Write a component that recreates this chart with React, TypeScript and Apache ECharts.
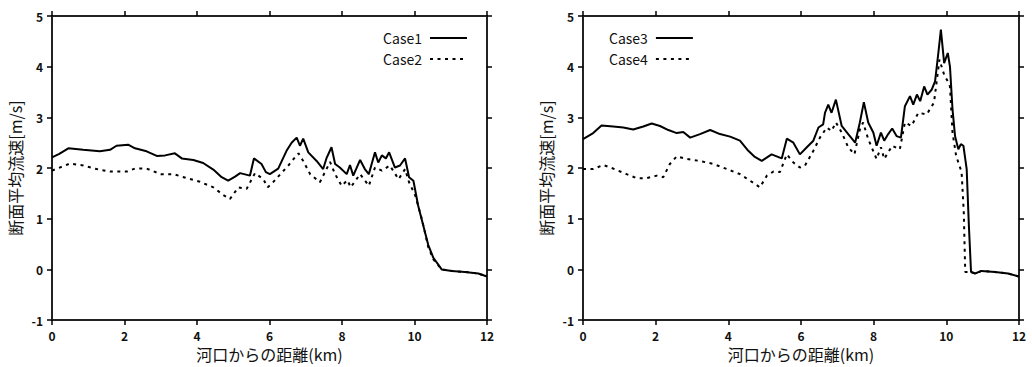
import React, { useEffect, useRef } from "react";
import * as echarts from "echarts";

const xTicks = [0, 2, 4, 6, 8, 10, 12];
const yTicks = [-1, 0, 1, 2, 3, 4, 5];
const xTitle = "河口からの距離(km)";
const yTitle = "断面平均流速[m/s]";

const case1Km = [0, 0.2, 0.45, 0.86, 1.32, 1.6, 1.78, 2.1, 2.29, 2.61, 2.89, 3.12, 3.39, 3.58, 3.9, 4.17, 4.45, 4.68, 4.86, 5.05, 5.19, 5.46, 5.57, 5.78, 5.9, 6.01, 6.24, 6.47, 6.61, 6.75, 6.84, 6.93, 7.07, 7.3, 7.48, 7.57, 7.71, 7.81, 7.94, 8.13, 8.22, 8.31, 8.5, 8.63, 8.74, 8.91, 9.0, 9.1, 9.21, 9.3, 9.46, 9.6, 9.74, 9.85, 9.97, 10.1, 10.24, 10.38, 10.52, 10.75, 11.03, 11.39, 11.76, 12.0];
const case1V = [2.21, 2.28, 2.39, 2.36, 2.33, 2.36, 2.44, 2.46, 2.39, 2.33, 2.24, 2.25, 2.29, 2.19, 2.16, 2.1, 1.97, 1.82, 1.75, 1.83, 1.9, 1.85, 2.19, 2.08, 1.92, 1.88, 1.99, 2.34, 2.5, 2.6, 2.44, 2.58, 2.31, 2.14, 1.98, 2.19, 2.41, 2.08, 2.01, 1.88, 2.06, 1.85, 2.16, 1.98, 1.88, 2.31, 2.11, 2.25, 2.19, 2.31, 2.01, 2.05, 2.19, 1.82, 1.75, 1.26, 0.87, 0.48, 0.23, 0.0, -0.03, -0.05, -0.08, -0.14];

const case2Km = [0, 0.5, 0.86, 1.23, 1.6, 2.06, 2.29, 2.61, 3.0, 3.35, 3.72, 4.08, 4.45, 4.72, 4.91, 5.14, 5.37, 5.6, 5.83, 5.95, 6.06, 6.3, 6.52, 6.7, 6.8, 6.93, 7.12, 7.39, 7.53, 7.67, 7.81, 7.99, 8.15, 8.24, 8.5, 8.74, 8.91, 9.1, 9.32, 9.56, 9.74, 9.85, 10.02, 10.2, 10.38, 10.52, 10.75, 11.03, 11.39, 11.76, 12.0];
const case2V = [1.95, 2.09, 2.05, 1.98, 1.93, 1.93, 1.99, 1.99, 1.88, 1.88, 1.8, 1.73, 1.62, 1.47, 1.39, 1.62, 1.59, 1.9, 1.78, 1.62, 1.69, 1.88, 2.05, 2.21, 2.29, 2.14, 1.88, 1.72, 1.92, 2.12, 1.88, 1.65, 1.76, 1.62, 1.88, 1.65, 2.01, 1.95, 2.05, 1.78, 1.98, 1.72, 1.46, 1.0, 0.44, 0.2, 0.0, -0.03, -0.05, -0.08, -0.14];

const case3Km = [0, 0.28, 0.51, 0.83, 1.11, 1.38, 1.66, 1.89, 2.12, 2.35, 2.58, 2.76, 2.95, 3.22, 3.5, 3.77, 4.05, 4.32, 4.55, 4.73, 4.92, 5.19, 5.47, 5.61, 5.79, 5.97, 6.16, 6.34, 6.48, 6.61, 6.66, 6.75, 6.84, 6.96, 7.12, 7.3, 7.49, 7.62, 7.73, 7.85, 7.99, 8.08, 8.2, 8.29, 8.4, 8.51, 8.63, 8.75, 8.86, 9.0, 9.09, 9.19, 9.28, 9.39, 9.48, 9.6, 9.69, 9.78, 9.85, 9.94, 10.04, 10.1, 10.17, 10.24, 10.33, 10.4, 10.47, 10.56, 10.62, 10.68, 10.79, 10.97, 11.34, 11.7, 12.0];
const case3V = [2.57, 2.69, 2.84, 2.82, 2.8, 2.76, 2.82, 2.88, 2.83, 2.75, 2.69, 2.71, 2.6, 2.67, 2.75, 2.67, 2.62, 2.54, 2.34, 2.22, 2.14, 2.27, 2.19, 2.58, 2.5, 2.27, 2.41, 2.54, 2.8, 2.86, 3.09, 3.25, 3.09, 3.35, 2.83, 2.67, 2.5, 2.9, 3.3, 2.9, 2.7, 2.44, 2.7, 2.54, 2.67, 2.78, 2.63, 2.6, 3.22, 3.42, 3.25, 3.45, 3.32, 3.61, 3.45, 3.55, 3.71, 4.27, 4.73, 4.07, 4.27, 4.0, 3.16, 2.63, 2.37, 2.47, 2.44, 1.98, 0.87, -0.05, -0.08, -0.03, -0.05, -0.08, -0.14];

const case4Km = [0, 0.28, 0.56, 0.83, 1.2, 1.48, 1.75, 2.03, 2.21, 2.39, 2.58, 2.85, 3.22, 3.59, 3.96, 4.32, 4.6, 4.87, 5.06, 5.24, 5.42, 5.61, 5.79, 5.97, 6.11, 6.34, 6.52, 6.71, 6.84, 6.96, 7.12, 7.3, 7.47, 7.62, 7.71, 7.85, 8.08, 8.2, 8.29, 8.51, 8.72, 8.86, 9.04, 9.23, 9.46, 9.66, 9.81, 9.94, 10.04, 10.1, 10.17, 10.27, 10.42, 10.48, 10.52, 10.62, 10.68, 10.79, 10.97, 11.34, 11.7, 12.0];
const case4V = [1.98, 1.98, 2.06, 1.99, 1.88, 1.8, 1.8, 1.85, 1.82, 2.08, 2.23, 2.18, 2.14, 2.08, 1.98, 1.88, 1.75, 1.62, 1.85, 1.93, 1.92, 2.27, 2.11, 2.01, 2.05, 2.34, 2.6, 2.8, 2.73, 2.9, 2.7, 2.41, 2.27, 2.76, 2.9, 2.57, 2.18, 2.41, 2.18, 2.44, 2.37, 2.9, 2.83, 3.09, 3.06, 3.29, 4.14, 3.84, 3.71, 3.61, 2.7, 2.24, 1.92, 1.13, -0.05, -0.05, -0.05, -0.08, -0.03, -0.05, -0.08, -0.14];

const seriesNames = ["Case1", "Case2", "Case3", "Case4"];

const zip = (a: number[], b: number[]) => a.map((x, i) => [x, b[i]]);

const FONT = "'Noto Sans CJK JP', 'Noto Sans', sans-serif";
const INK = "#111";
const FRAME = "#222";

function makeX(gridIndex: number, top: boolean) {
  return {
    type: "value",
    gridIndex,
    position: top ? "top" : "bottom",
    min: xTicks[0],
    max: xTicks[xTicks.length - 1],
    interval: 2,
    name: top ? "" : xTitle,
    nameLocation: "middle",
    nameGap: 24,
    nameTextStyle: { fontFamily: FONT, fontSize: 16, color: INK },
    axisLine: { show: true, onZero: false, lineStyle: { color: FRAME, width: 2 } },
    axisTick: { show: true, inside: true, length: -5, lineStyle: { color: "#000", width: 1.5 } },
    axisLabel: { show: !top, fontFamily: FONT, fontSize: 12, fontWeight: "bold", color: INK, margin: 9 },
    splitLine: { show: false },
  };
}

function makeY(gridIndex: number, right: boolean) {
  return {
    type: "value",
    gridIndex,
    position: right ? "right" : "left",
    min: yTicks[0],
    max: yTicks[yTicks.length - 1],
    interval: 1,
    name: right ? "" : yTitle,
    nameLocation: "middle",
    nameRotate: 90,
    nameGap: 29,
    nameTextStyle: { fontFamily: FONT, fontSize: 16, color: INK },
    axisLine: { show: true, onZero: false, lineStyle: { color: FRAME, width: 2 } },
    axisTick: { show: true, inside: true, length: -5, lineStyle: { color: "#000", width: 1.5 } },
    axisLabel: { show: !right, fontFamily: FONT, fontSize: 12, fontWeight: "bold", color: INK, margin: 9 },
    splitLine: { show: false },
  };
}

function lineSeries(name: string, data: number[][], axis: number, dashed: boolean) {
  return {
    name,
    type: "line",
    xAxisIndex: axis,
    yAxisIndex: axis,
    data,
    symbol: "none",
    showSymbol: false,
    lineStyle: { color: "#000", width: 2, type: dashed ? [3, 4.5] : "solid" },
    itemStyle: { color: "#000" },
  };
}

export default function App() {
  const ref = useRef<HTMLDivElement>(null);
  useEffect(() => {
    document.body.style.margin = "0";
    const chart = echarts.init(ref.current!, null, { renderer: "svg" });
    const legendCommon = {
      orient: "vertical",
      align: "right",
      itemWidth: 37,
      itemHeight: 14,
      itemGap: 7,
      textStyle: { fontFamily: FONT, fontSize: 14, color: INK, padding: [0, 3, 0, 0] },
      itemStyle: { opacity: 0 },
      selectedMode: false,
    };
    chart.setOption({
      animation: false,
      backgroundColor: "#fff",
      grid: [
        { left: 52, top: 16, width: 435, height: 306 },
        { left: 583, top: 16, width: 436, height: 306 },
      ],
      xAxis: [makeX(0, false), makeX(0, true), makeX(1, false), makeX(1, true)],
      yAxis: [makeY(0, false), makeY(0, true), makeY(1, false), makeY(1, true)],
      legend: [
        { ...legendCommon, data: [seriesNames[0], seriesNames[1]], right: 1032 - 473, top: 26 },
        { ...legendCommon, data: [seriesNames[2], seriesNames[3]], left: 604, top: 26 },
      ],
      series: [
        lineSeries(seriesNames[0], zip(case1Km, case1V), 0, false),
        lineSeries(seriesNames[1], zip(case2Km, case2V), 0, true),
        lineSeries(seriesNames[2], zip(case3Km, case3V), 2, false),
        lineSeries(seriesNames[3], zip(case4Km, case4V), 2, true),
      ],
    });
    return () => chart.dispose();
  }, []);
  return <div ref={ref} style={{ width: 1032, height: 367, position: "absolute", left: 0, top: 0 }} />;
}
